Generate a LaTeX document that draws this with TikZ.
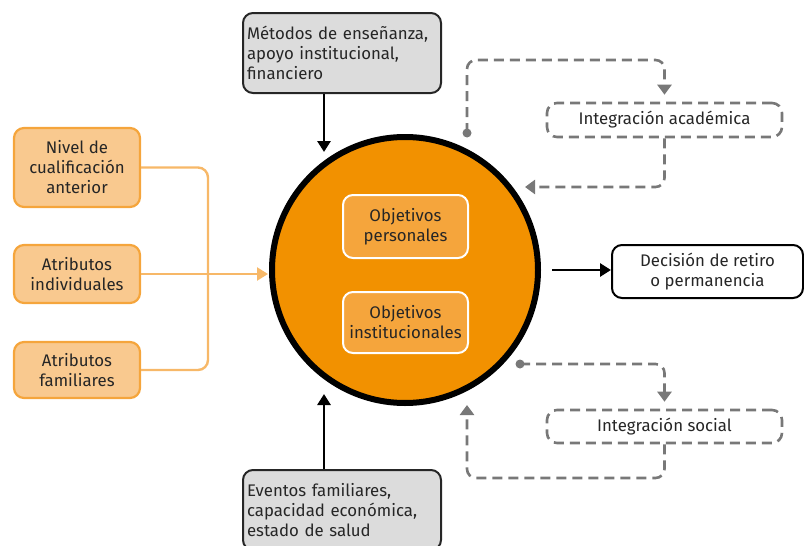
\documentclass[tikz,border=0pt]{standalone}
\usepackage{fontspec}
\setmainfont{Fira Sans}
\usetikzlibrary{arrows.meta}
\usetikzlibrary{positioning}
\definecolor{naranja}{HTML}{F29100}
\definecolor{naranjamedio}{HTML}{F5A53C}
\definecolor{naranjaclaro}{HTML}{F9C98F}
\definecolor{lineanaranja}{HTML}{F7B868}
\definecolor{grisclaro}{HTML}{DCDCDC}
\definecolor{grislinea}{HTML}{787878}
\definecolor{texto}{HTML}{262626}

\tikzset{
  every node/.style={text=texto, font=\fontsize{16.8}{20}\selectfont},
  factor/.style={rectangle, rounded corners=10pt, draw=naranjamedio, fill=naranjaclaro,
    line width=2.2pt, minimum width=126, align=center, inner sep=1pt},
  objetivo/.style={rectangle, rounded corners=10pt, draw=white, fill=naranjamedio,
    line width=2pt, minimum width=125, align=center, inner sep=1pt},
  entorno/.style={rectangle, rounded corners=10pt, draw=black!85, fill=grisclaro,
    line width=2pt, minimum width=198, minimum height=80, align=left, text width=190, inner sep=3pt},
  integra/.style={rectangle, rounded corners=10pt, draw=grislinea, line width=2.6pt,
    dash pattern=on 10pt off 6pt, minimum width=235, align=center},
  bucle/.style={draw=grislinea, line width=2.6pt, dash pattern=on 10pt off 6pt,
    rounded corners=9pt},
  flechagris/.style={-{Triangle[width=14pt,length=10pt]}},
  flechanegra/.style={draw=black, line width=2.8pt, -{Triangle[width=13pt,length=11pt]}},
  flechanaranja/.style={draw=lineanaranja, line width=2.4pt, -{Triangle[width=13pt,length=11pt]}},
}

\begin{document}
\begin{tikzpicture}[x=1pt,y=-1pt]
  \useasboundingbox (0,0) rectangle (804,546);

  % circulo central
  \node[circle, draw=black, fill=naranja, line width=6pt, minimum size=266] (circulo) at (405,270) {};
  \node[objetivo, minimum height=63] (personales) at (405.5,226.5) {Objetivos\\personales};
  \node[objetivo, minimum height=61] (institucionales) at (405.5,322.5) {Objetivos\\institucionales};

  % factores de la izquierda
  \node[factor, minimum height=79] (nivel) at (77,167.5) {Nivel de\\cualificación\\anterior};
  \node[factor, minimum height=58] (individuales) at (77,274) {Atributos\\individuales};
  \node[factor, minimum height=56] (familiares) at (77,370) {Atributos\\familiares};

  \coordinate (union) at (208,270);
  \coordinate (entrada) at (268,274);
  \draw[draw=lineanaranja, line width=2.4pt, rounded corners=10pt] (nivel.east) -| (union) |- (familiares.east);
  \draw[flechanaranja] (individuales.east) -- (entrada);

  % entorno arriba y abajo
  \node[entorno] (metodos) at (342,53) {Métodos de enseñanza,\\apoyo institucional,\\financiero};
  \node[entorno] (eventos) at (342,510) {Eventos familiares,\\capacidad económica,\\estado de salud};

  \coordinate (arribaen) at (324,152);
  \coordinate (abajoen) at (324,394);
  \draw[flechanegra] (metodos.south -| arribaen) -- (arribaen);
  \draw[flechanegra] (eventos.north -| abajoen) -- (abajoen);

  % decision
  \node[rectangle, rounded corners=10pt, draw=black, line width=2pt, minimum width=191,
    minimum height=53, align=center, inner sep=1pt] (decision) at (707.5,271.5) {Decisión de retiro\\o permanencia};
  \coordinate (salida) at (552,270);
  \draw[flechanegra] (salida) -- (decision.west |- salida);

  % integracion academica
  \node[integra, minimum height=34] (academica) at (664.5,120) {Integración académica};
  \coordinate (puntoA) at (467,133);
  \coordinate (vueltaA) at (525,187);
  \fill[grislinea] (puntoA) circle (4.5pt);
  \draw[bucle, flechagris] (puntoA) |- (academica.north |- 0,60) -- ([yshift=7pt]academica.north);
  \draw[bucle, flechagris] (academica.south) |- (vueltaA);

  % integracion social
  \node[integra, minimum height=33] (social) at (664.5,426.5) {Integración social};
  \coordinate (puntoS) at (520,364);
  \coordinate (vueltaS) at (467,405);
  \fill[grislinea] (puntoS) circle (4.5pt);
  \draw[bucle, flechagris] (puntoS) -| ([yshift=7pt]social.north);
  \draw[bucle, flechagris] (social.south) |- (vueltaS |- 0,478) -- (vueltaS);
\end{tikzpicture}
\end{document}
